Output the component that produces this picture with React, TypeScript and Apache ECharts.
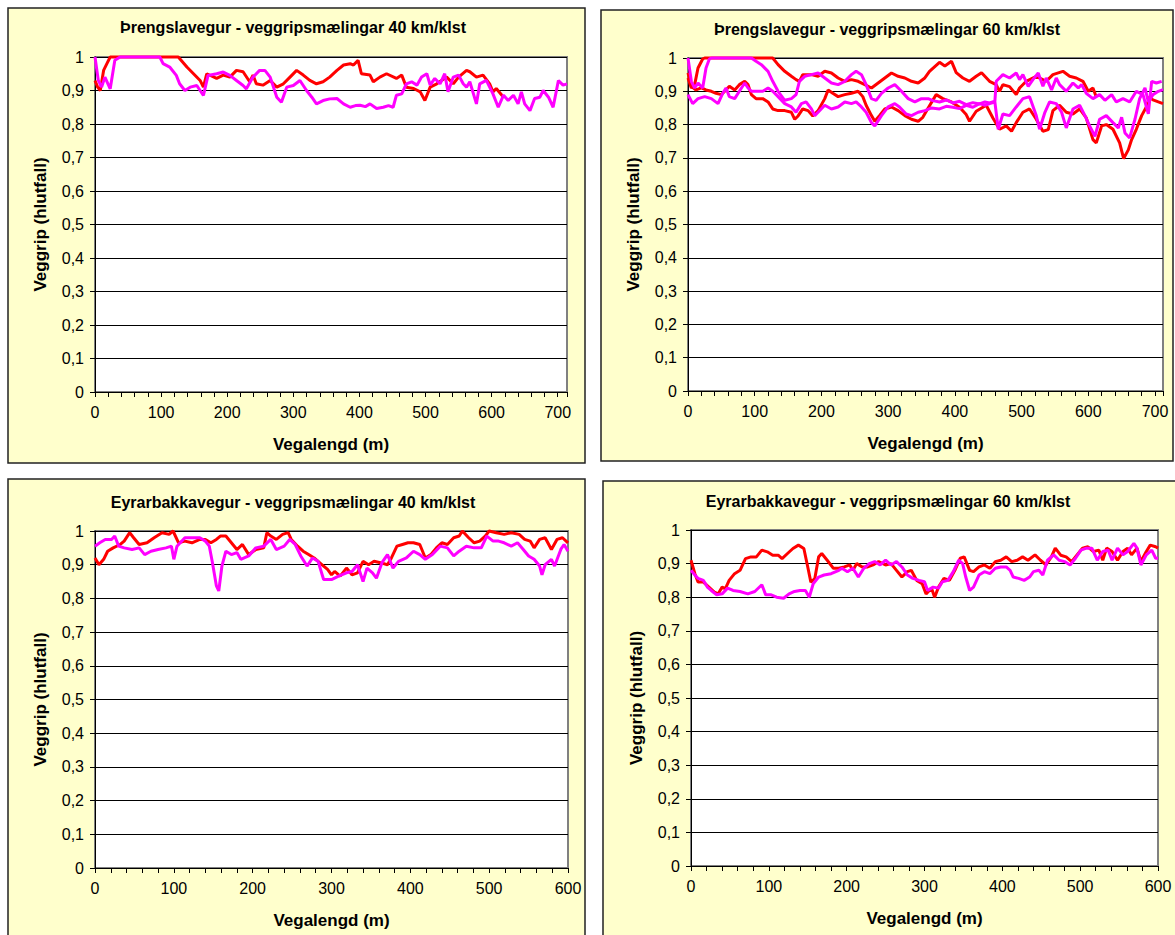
import React, { useEffect, useRef } from "react";
import * as echarts from "echarts";

// ---------- Data (distance in m, grip ratio) ----------
const panelTitles = [
  "Þrengslavegur - veggripsmælingar 40 km/klst",
  "Þrengslavegur - veggripsmælingar 60 km/klst",
  "Eyrarbakkavegur - veggripsmælingar 40 km/klst",
  "Eyrarbakkavegur - veggripsmælingar 60 km/klst",
];
const yAxisTitle = "Veggrip (hlutfall)";
const xAxisTitle = "Vegalengd (m)";
const xAxisMax = [714, 712, 600, 600];

const thr40Red = [
  [0, 0.93], [4, 0.91], [8, 0.9], [13, 0.96], [18, 0.98], [23, 1], [60, 1], [100, 1], [126, 1],
  [139, 0.97], [149, 0.95], [159, 0.93], [164, 0.91], [169, 0.95], [184, 0.936], [194, 0.946],
  [204, 0.94], [214, 0.96], [224, 0.956], [234, 0.926], [239, 0.946], [244, 0.92], [254, 0.916],
  [265, 0.93], [275, 0.91], [285, 0.92], [295, 0.94], [305, 0.96], [315, 0.946], [325, 0.93],
  [335, 0.92], [345, 0.926], [355, 0.94], [366, 0.96], [376, 0.976], [386, 0.98], [391, 0.976],
  [398, 0.99], [403, 0.95], [416, 0.946], [421, 0.926], [431, 0.94], [441, 0.95], [456, 0.936],
  [464, 0.946], [471, 0.91], [482, 0.906], [492, 0.896], [499, 0.87], [507, 0.91], [517, 0.92],
  [532, 0.94], [542, 0.92], [550, 0.94], [562, 0.96], [567, 0.956], [577, 0.94], [587, 0.946],
  [597, 0.92], [602, 0.896], [607, 0.906], [618, 0.88],
];
const thr40Magenta = [
  [0, 1], [5, 0.93], [10, 0.91], [15, 0.94], [23, 0.905], [30, 0.99], [38, 1], [70, 1], [98, 1],
  [103, 0.98], [113, 0.97], [123, 0.945], [128, 0.92], [136, 0.9], [144, 0.91], [154, 0.915],
  [164, 0.885], [171, 0.945], [184, 0.95], [194, 0.955], [204, 0.945], [214, 0.93], [224, 0.915],
  [229, 0.905], [239, 0.94], [249, 0.96], [257, 0.96], [265, 0.94], [275, 0.88], [282, 0.865],
  [290, 0.91], [300, 0.915], [310, 0.93], [320, 0.9], [328, 0.88], [335, 0.86], [345, 0.87],
  [355, 0.875], [366, 0.876], [376, 0.86], [386, 0.85], [394, 0.855], [401, 0.856], [409, 0.852],
  [416, 0.86], [426, 0.846], [436, 0.85], [444, 0.855], [451, 0.85], [456, 0.886], [464, 0.89],
  [471, 0.92], [479, 0.926], [487, 0.916], [494, 0.94], [502, 0.95], [507, 0.916], [514, 0.936],
  [522, 0.92], [529, 0.95], [534, 0.896], [542, 0.94], [550, 0.946], [557, 0.92], [562, 0.91],
  [567, 0.926], [577, 0.86], [582, 0.92], [592, 0.93], [602, 0.89], [610, 0.85], [618, 0.886],
  [625, 0.87], [633, 0.886], [640, 0.86], [645, 0.896], [650, 0.86], [658, 0.84], [665, 0.876],
  [673, 0.88], [678, 0.9], [686, 0.88], [693, 0.85], [701, 0.93], [708, 0.916], [714, 0.92],
];

const thr60RedA = [
  [0, 0.94], [5, 0.91], [10, 0.92], [15, 0.97], [22, 0.997], [25, 1], [60, 1], [100, 1], [127, 1],
  [135, 0.98], [145, 0.96], [155, 0.945], [162, 0.935], [167, 0.93], [172, 0.95], [185, 0.95],
  [195, 0.945], [205, 0.96], [215, 0.955], [225, 0.94], [235, 0.93], [245, 0.935], [255, 0.93],
  [265, 0.92], [275, 0.91], [285, 0.925], [295, 0.94], [305, 0.955], [315, 0.945], [325, 0.94],
  [335, 0.93], [345, 0.925], [355, 0.94], [362, 0.96], [377, 0.987], [385, 0.976], [395, 0.99],
  [402, 0.956], [412, 0.94], [422, 0.93], [432, 0.945], [440, 0.956], [452, 0.93], [462, 0.92],
  [467, 0.9], [472, 0.92], [482, 0.914], [492, 0.89], [497, 0.91], [507, 0.93], [522, 0.945],
  [537, 0.93], [547, 0.95], [562, 0.96], [572, 0.945], [582, 0.94], [592, 0.93], [600, 0.9],
  [607, 0.91], [612, 0.883],
];
const thr60RedB = [
  [0, 0.955], [5, 0.915], [12, 0.904], [20, 0.91], [27, 0.904], [35, 0.9], [42, 0.894], [50, 0.89],
  [55, 0.9], [62, 0.915], [70, 0.904], [77, 0.92], [85, 0.93], [90, 0.92], [95, 0.89], [102, 0.878],
  [112, 0.878], [120, 0.868], [127, 0.847], [135, 0.842], [145, 0.842], [155, 0.837], [160, 0.816],
  [165, 0.826], [172, 0.847], [180, 0.842], [187, 0.826], [195, 0.842], [205, 0.878], [210, 0.904],
  [217, 0.894], [225, 0.884], [235, 0.89], [245, 0.894], [255, 0.9], [262, 0.884], [267, 0.858],
  [275, 0.827], [280, 0.81], [287, 0.827], [295, 0.847], [305, 0.853], [315, 0.842], [325, 0.827],
  [335, 0.816], [345, 0.81], [352, 0.822], [360, 0.85], [372, 0.89], [382, 0.878], [395, 0.868],
  [407, 0.852], [417, 0.83], [422, 0.81], [432, 0.84], [447, 0.858], [457, 0.82], [467, 0.786],
  [477, 0.796], [485, 0.78], [492, 0.806], [502, 0.837], [512, 0.847], [522, 0.816], [532, 0.78],
  [540, 0.785], [547, 0.842], [557, 0.858], [567, 0.837], [577, 0.832], [587, 0.847], [597, 0.82],
  [607, 0.755], [612, 0.745], [620, 0.796], [627, 0.8], [637, 0.786], [647, 0.745], [653, 0.698],
  [660, 0.724], [665, 0.755], [672, 0.786], [680, 0.827], [687, 0.853], [692, 0.884], [697, 0.874],
  [705, 0.868], [712, 0.863],
];
const thr60MagentaA = [
  [0, 1], [5, 0.93], [10, 0.91], [15, 0.925], [22, 0.91], [27, 0.97], [32, 0.997], [35, 1], [60, 1],
  [95, 1], [102, 0.99], [110, 0.98], [120, 0.96], [127, 0.93], [135, 0.9], [145, 0.873], [155, 0.878],
  [162, 0.89], [167, 0.93], [175, 0.945], [185, 0.95], [195, 0.955], [205, 0.94], [215, 0.925],
  [225, 0.92], [235, 0.93], [245, 0.95], [252, 0.96], [260, 0.95], [267, 0.92], [275, 0.878],
  [282, 0.873], [290, 0.894], [300, 0.91], [310, 0.92], [320, 0.9], [330, 0.878], [340, 0.868],
  [350, 0.878], [360, 0.878], [367, 0.872], [377, 0.868], [387, 0.874], [397, 0.865], [407, 0.87],
  [417, 0.86], [427, 0.866], [437, 0.862], [445, 0.868], [452, 0.865], [460, 0.87], [462, 0.93],
  [472, 0.95], [482, 0.94], [492, 0.955], [497, 0.935], [502, 0.95], [510, 0.915], [517, 0.935],
  [525, 0.955], [532, 0.915], [537, 0.94], [545, 0.904], [552, 0.94], [557, 0.92], [567, 0.9],
  [577, 0.925], [585, 0.91], [590, 0.92], [597, 0.894], [607, 0.878], [617, 0.89], [625, 0.873],
  [635, 0.89], [642, 0.868], [652, 0.878], [662, 0.868], [672, 0.9], [682, 0.89], [690, 0.832],
  [695, 0.93], [702, 0.925], [710, 0.93],
];
const thr60MagentaB = [
  [0, 0.89], [7, 0.863], [15, 0.878], [25, 0.884], [35, 0.878], [45, 0.863], [52, 0.894], [57, 0.91],
  [62, 0.884], [70, 0.878], [77, 0.9], [85, 0.925], [90, 0.91], [95, 0.9], [102, 0.9], [112, 0.9],
  [120, 0.91], [127, 0.9], [135, 0.884], [145, 0.863], [155, 0.853], [162, 0.837], [170, 0.863],
  [177, 0.868], [185, 0.847], [190, 0.827], [195, 0.837], [205, 0.858], [215, 0.847], [225, 0.853],
  [235, 0.868], [245, 0.863], [252, 0.868], [260, 0.853], [267, 0.837], [275, 0.806], [280, 0.796],
  [290, 0.827], [300, 0.853], [310, 0.863], [317, 0.853], [327, 0.832], [335, 0.827], [345, 0.837],
  [355, 0.842], [365, 0.85], [377, 0.847], [387, 0.855], [397, 0.852], [407, 0.848], [417, 0.858],
  [427, 0.852], [437, 0.863], [445, 0.858], [452, 0.863], [460, 0.868], [465, 0.786], [472, 0.832],
  [482, 0.827], [492, 0.853], [502, 0.878], [512, 0.884], [522, 0.827], [527, 0.786], [535, 0.837],
  [542, 0.868], [552, 0.863], [560, 0.837], [567, 0.79], [577, 0.847], [587, 0.858], [595, 0.827],
  [602, 0.796], [610, 0.765], [617, 0.816], [627, 0.827], [637, 0.806], [645, 0.79], [650, 0.822],
  [655, 0.775], [662, 0.76], [670, 0.816], [677, 0.878], [685, 0.91], [690, 0.868], [697, 0.89],
  [705, 0.9], [712, 0.905],
];

const eyr40Red = [
  [0, 0.92], [5, 0.9], [11, 0.916], [16, 0.94], [23, 0.95], [32, 0.96], [37, 0.97], [44, 0.995],
  [49, 0.98], [56, 0.96], [66, 0.965], [75, 0.98], [85, 0.995], [94, 0.99], [99, 1], [106, 0.965],
  [114, 0.97], [123, 0.965], [133, 0.975], [140, 0.975], [147, 0.965], [154, 0.975], [159, 0.985],
  [166, 0.985], [173, 0.965], [180, 0.945], [187, 0.96], [195, 0.93], [204, 0.945], [214, 0.95],
  [218, 0.995], [223, 0.985], [230, 0.975], [238, 0.99], [245, 0.995], [249, 0.975], [257, 0.955],
  [264, 0.94], [271, 0.93], [278, 0.92], [283, 0.91], [290, 0.896], [295, 0.886], [300, 0.87],
  [304, 0.88], [311, 0.866], [319, 0.89], [326, 0.87], [333, 0.876], [340, 0.91], [347, 0.9],
  [354, 0.91], [362, 0.906], [371, 0.9], [376, 0.92], [383, 0.955], [390, 0.96], [397, 0.965],
  [404, 0.965], [412, 0.96], [419, 0.92], [426, 0.93], [433, 0.95], [440, 0.965], [447, 0.96],
  [455, 0.98], [462, 0.985], [466, 1], [474, 0.98], [481, 0.965], [488, 0.97], [495, 0.985], [500, 1],
  [509, 0.995], [519, 0.99], [528, 0.995], [538, 0.99], [545, 0.975], [552, 0.97], [557, 0.95],
  [564, 0.975], [571, 0.98], [579, 0.945], [586, 0.975], [593, 0.98], [600, 0.965],
];
const eyr40Magenta = [
  [0, 0.955], [6, 0.965], [13, 0.975], [21, 0.975], [25, 0.985], [30, 0.955], [37, 0.95], [47, 0.945],
  [56, 0.95], [63, 0.93], [71, 0.94], [80, 0.945], [90, 0.95], [97, 0.955], [100, 0.916], [104, 0.955],
  [114, 0.98], [123, 0.98], [133, 0.98], [140, 0.97], [145, 0.955], [149, 0.906], [154, 0.837],
  [157, 0.822], [161, 0.896], [166, 0.94], [173, 0.93], [180, 0.936], [185, 0.916], [195, 0.926],
  [204, 0.95], [214, 0.955], [223, 0.975], [230, 0.945], [240, 0.955], [247, 0.975], [254, 0.96],
  [261, 0.926], [269, 0.896], [276, 0.92], [283, 0.91], [290, 0.856], [300, 0.856], [309, 0.866],
  [319, 0.876], [326, 0.88], [333, 0.9], [340, 0.85], [345, 0.89], [352, 0.876], [357, 0.86],
  [364, 0.906], [371, 0.93], [378, 0.89], [385, 0.91], [395, 0.92], [404, 0.94], [412, 0.93],
  [419, 0.916], [428, 0.93], [438, 0.955], [447, 0.95], [455, 0.926], [462, 0.94], [471, 0.955],
  [481, 0.95], [490, 0.95], [497, 0.985], [505, 0.97], [512, 0.97], [519, 0.965], [528, 0.955],
  [536, 0.965], [543, 0.946], [550, 0.926], [557, 0.916], [564, 0.896], [567, 0.87], [571, 0.9],
  [579, 0.916], [583, 0.896], [591, 0.946], [595, 0.96], [600, 0.94],
];

const eyr60Red = [
  [0, 0.91], [5, 0.87], [9, 0.845], [16, 0.845], [23, 0.83], [30, 0.815], [35, 0.81], [40, 0.83],
  [44, 0.825], [49, 0.85], [56, 0.87], [63, 0.88], [70, 0.915], [77, 0.92], [84, 0.92], [91, 0.94],
  [98, 0.935], [105, 0.925], [112, 0.925], [117, 0.915], [124, 0.93], [131, 0.945], [138, 0.955],
  [145, 0.945], [150, 0.89], [154, 0.845], [159, 0.855], [164, 0.92], [168, 0.93], [175, 0.91],
  [183, 0.886], [190, 0.886], [197, 0.89], [204, 0.896], [208, 0.88], [213, 0.9], [220, 0.89],
  [227, 0.89], [234, 0.896], [241, 0.906], [250, 0.896], [257, 0.9], [264, 0.88], [271, 0.86],
  [278, 0.876], [283, 0.88], [290, 0.85], [297, 0.84], [302, 0.81], [309, 0.827], [313, 0.8],
  [318, 0.83], [325, 0.856], [332, 0.85], [339, 0.88], [346, 0.916], [351, 0.92], [358, 0.88],
  [363, 0.876], [370, 0.89], [377, 0.896], [384, 0.886], [391, 0.906], [398, 0.91], [405, 0.92],
  [412, 0.906], [419, 0.91], [426, 0.92], [433, 0.91], [442, 0.926], [449, 0.91], [456, 0.896],
  [463, 0.92], [468, 0.946], [475, 0.925], [482, 0.92], [489, 0.906], [496, 0.926], [503, 0.946],
  [510, 0.95], [517, 0.936], [524, 0.94], [529, 0.91], [534, 0.946], [541, 0.936], [548, 0.91],
  [555, 0.936], [561, 0.946], [566, 0.926], [573, 0.946], [578, 0.906], [585, 0.936], [590, 0.955],
  [597, 0.95], [600, 0.946],
];
const eyr60Magenta = [
  [0, 0.88], [5, 0.866], [9, 0.856], [16, 0.85], [21, 0.83], [26, 0.82], [33, 0.807], [40, 0.81],
  [47, 0.827], [54, 0.82], [63, 0.817], [73, 0.81], [82, 0.817], [91, 0.837], [96, 0.807], [103, 0.807],
  [110, 0.8], [119, 0.797], [126, 0.81], [133, 0.817], [140, 0.82], [147, 0.82], [152, 0.8], [157, 0.84],
  [164, 0.86], [171, 0.866], [180, 0.87], [190, 0.88], [194, 0.886], [201, 0.876], [208, 0.886],
  [215, 0.86], [222, 0.886], [229, 0.9], [236, 0.906], [243, 0.896], [250, 0.91], [257, 0.896],
  [264, 0.906], [271, 0.89], [278, 0.866], [285, 0.856], [293, 0.85], [300, 0.846], [304, 0.82],
  [311, 0.83], [318, 0.827], [323, 0.846], [330, 0.85], [337, 0.876], [344, 0.91], [349, 0.9],
  [353, 0.86], [358, 0.82], [363, 0.83], [370, 0.866], [377, 0.876], [384, 0.87], [391, 0.886],
  [398, 0.89], [405, 0.89], [410, 0.88], [414, 0.86], [421, 0.856], [428, 0.85], [435, 0.86],
  [440, 0.876], [447, 0.88], [452, 0.866], [458, 0.91], [466, 0.926], [473, 0.91], [480, 0.906],
  [487, 0.896], [494, 0.916], [501, 0.94], [508, 0.946], [515, 0.946], [522, 0.91], [529, 0.936],
  [536, 0.94], [541, 0.91], [548, 0.946], [555, 0.926], [561, 0.936], [569, 0.96], [573, 0.946],
  [578, 0.896], [585, 0.926], [592, 0.94], [597, 0.916], [600, 0.916],
];

const panelSeries = [
  [thr40Red, thr40Magenta],
  [thr60RedA, thr60RedB, thr60MagentaA, thr60MagentaB],
  [eyr40Red, eyr40Magenta],
  [eyr60Red, eyr60Magenta],
];
const seriesColors = [
  ["#FF0000", "#FF00FF"],
  ["#FF0000", "#FF0000", "#FF00FF", "#FF00FF"],
  ["#FF0000", "#FF00FF"],
  ["#FF0000", "#FF00FF"],
];

// ---------- Layout ----------
const FONT = "'Liberation Sans', Arial, sans-serif";
const layout = [
  { box: [8, 8, 577, 455], grid: [95, 57, 472, 335], title: [293, 28] },
  { box: [601, 10, 572, 451], grid: [688, 58, 475, 333], title: [887, 30] },
  { box: [8, 479, 577, 460], grid: [95, 531, 473, 337], title: [293, 503] },
  { box: [603, 481, 575, 460], grid: [691, 530, 467, 336], title: [888, 502] },
];

function yLabel(v: number): string {
  const r = Math.round(v * 10) / 10;
  if (r === 0) return "0";
  if (r === 1) return "1";
  return r.toFixed(1).replace(".", ",");
}

function buildOption() {
  const grids: any[] = [];
  const xAxes: any[] = [];
  const yAxes: any[] = [];
  const series: any[] = [];
  const graphics: any[] = [];
  const titles: any[] = [];

  layout.forEach((p, i) => {
    graphics.push({
      type: "rect",
      z: -10,
      shape: { x: p.box[0], y: p.box[1], width: p.box[2], height: p.box[3] },
      style: { fill: "#FFFFCC", stroke: "#222", lineWidth: 1.5 },
    });
    titles.push({
      text: panelTitles[i],
      left: p.title[0],
      top: p.title[1] - 9,
      textAlign: "center",
      padding: 0,
      textStyle: { fontFamily: FONT, fontSize: 16, fontWeight: "bold", color: "#000" },
    });
    grids.push({
      left: p.grid[0],
      top: p.grid[1],
      width: p.grid[2],
      height: p.grid[3],
      show: true,
      backgroundColor: "#FFFFFF",
      borderColor: "#808080",
      borderWidth: 2,
      containLabel: false,
    });
    xAxes.push({
      type: "value",
      gridIndex: i,
      min: 0,
      max: xAxisMax[i],
      interval: 20,
      name: xAxisTitle,
      nameLocation: "middle",
      nameGap: 44,
      nameTextStyle: { fontFamily: FONT, fontSize: 17, fontWeight: "bold", color: "#000" },
      axisLine: { show: true, lineStyle: { color: "#000", width: 1 } },
      axisTick: { show: true, length: 5, lineStyle: { color: "#000" } },
      axisLabel: {
        fontFamily: FONT,
        fontSize: 16,
        color: "#000",
        margin: 12,
        showMaxLabel: true,
        showMinLabel: true,
        formatter: (v: number) => (v % 100 === 0 ? String(v) : ""),
      },
      splitLine: { show: false },
    });
    yAxes.push({
      type: "value",
      gridIndex: i,
      min: 0,
      max: 1,
      interval: 0.1,
      name: yAxisTitle,
      nameLocation: "middle",
      nameGap: 46,
      nameTextStyle: { fontFamily: FONT, fontSize: 17, fontWeight: "bold", color: "#000" },
      axisLine: { show: true, lineStyle: { color: "#000", width: 1 } },
      axisTick: { show: true, length: 5, lineStyle: { color: "#000" } },
      axisLabel: { fontFamily: FONT, fontSize: 16, color: "#000", margin: 11, formatter: yLabel },
      splitLine: { show: true, lineStyle: { color: "#000", width: 1 } },
    });
    panelSeries[i].forEach((data, j) => {
      series.push({
        type: "line",
        xAxisIndex: i,
        yAxisIndex: i,
        data,
        showSymbol: false,
        symbol: "none",
        clip: false,
        color: seriesColors[i][j],
        lineStyle: { color: seriesColors[i][j], width: 3 },
        silent: true,
      });
    });
  });

  return {
    animation: false,
    backgroundColor: "#FFFFFF",
    title: titles,
    grid: grids,
    xAxis: xAxes,
    yAxis: yAxes,
    series,
    graphic: graphics,
  };
}

export default function App() {
  const ref = useRef<HTMLDivElement>(null);
  useEffect(() => {
    if (!ref.current) return;
    const chart = echarts.init(ref.current, null, { renderer: "svg" });
    chart.setOption(buildOption());
    return () => chart.dispose();
  }, []);
  return (
    <div
      ref={ref}
      style={{ position: "absolute", left: 0, top: 0, width: 1175, height: 935, background: "#fff" }}
    />
  );
}
